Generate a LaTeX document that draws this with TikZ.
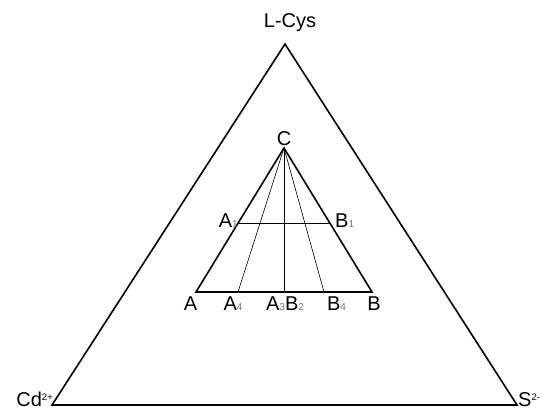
\documentclass[tikz,border=0pt]{standalone}
\usepackage{fontspec}
\setmainfont{Liberation Sans}
\usetikzlibrary{calc}
\newcommand{\subidx}[1]{\raisebox{-0.5pt}{\fontsize{10}{10}\selectfont\color{black!55}#1}}
\newcommand{\supidx}[1]{\raisebox{6pt}{\fontsize{9.5}{10}\selectfont #1}}
\begin{document}
\begin{tikzpicture}[x=1pt,y=-1pt,
    lbl/.style={font=\fontsize{20}{22}\selectfont, inner sep=0pt},
    edge/.style={line width=1.6pt, line join=miter},
    thin line/.style={line width=0.6pt}]
  \useasboundingbox (0,0) rectangle (541,409);
  % outer triangle
  \coordinate (L) at (285,44);
  \coordinate (Cd) at (52,405);
  \coordinate (S) at (517,405);
  \draw[edge] (L) -- (Cd) -- (S) -- cycle;
  % inner triangle
  \coordinate (C) at (284,148);
  \coordinate (A) at (196,292);
  \coordinate (B) at (372,292);
  \coordinate (A1) at ($(C)!0.52!(A)$);
  \coordinate (B1) at ($(C)!0.52!(B)$);
  \coordinate (A4) at (238,292);
  \coordinate (A3) at (284,292);
  \coordinate (B4) at (324,292);
  \draw[thin line] (A1) -- (B1);
  \foreach \p in {A4,A3,B4}
    \draw[thin line] (C) -- (\p);
  \draw[edge] (C) -- (A) -- (B) -- cycle;
  % labels
  \node[lbl, anchor=base] (lcys) at (290,28) {L-Cys};
  \node[lbl, anchor=base east] (cdlbl) at (53,406) {Cd\supidx{2+}};
  \node[lbl, anchor=base west] (slbl) at (518,406) {S\supidx{2-}};
  \node[lbl, anchor=base] (clbl) at (284,146) {C};
  \node[lbl, anchor=base east] (a1lbl) at (238,227) {A\subidx{1}};
  \node[lbl, anchor=base west] (b1lbl) at (335,227) {B\subidx{1}};
  \node[lbl, anchor=base] (albl) at (190.5,310) {A};
  \node[lbl, anchor=base] (a4lbl) at (233,310) {A\subidx{4}};
  \node[lbl, anchor=base] (a3b2lbl) at (285,310) {A\subidx{3}B\subidx{2}};
  \node[lbl, anchor=base] (b4lbl) at (336.5,310) {B\subidx{4}};
  \node[lbl, anchor=base] (blbl) at (374,310) {B};
\end{tikzpicture}
\end{document}
